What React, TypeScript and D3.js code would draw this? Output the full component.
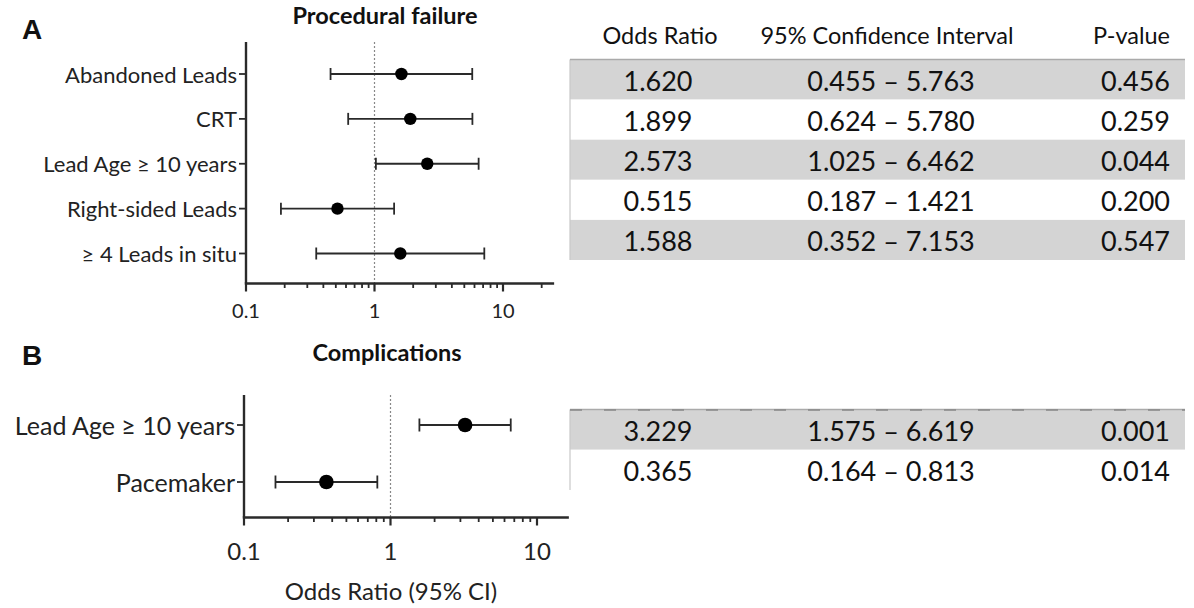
import React from "react";
import * as d3 from "d3";

const catsA = ["Abandoned Leads", "CRT", "Lead Age ≥ 10 years", "Right-sided Leads", "≥ 4 Leads in situ"];
const orA = [1.62, 1.899, 2.573, 0.515, 1.588];
const loA = [0.455, 0.624, 1.025, 0.187, 0.352];
const hiA = [5.763, 5.78, 6.462, 1.421, 7.153];
const pA = ["0.456", "0.259", "0.044", "0.200", "0.547"];

const catsB = ["Lead Age ≥ 10 years", "Pacemaker"];
const orB = [3.229, 0.365];
const loB = [1.575, 0.164];
const hiB = [6.619, 0.813];
const pB = ["0.001", "0.014"];

const tickLabels = ["0.1", "1", "10"];
const tableHeaders = ["Odds Ratio", "95% Confidence Interval", "P-value"];

const FONT = "Lato, 'Open Sans', sans-serif";
const f3 = d3.format(".3f");
const AX = "#2a2a2a";

function minorTicks(domain: [number, number]) {
  const out: number[] = [];
  for (let dec = 0.1; dec < domain[1]; dec *= 10) {
    for (let m = 2; m <= 9; m++) {
      const v = +(dec * m).toPrecision(3);
      if (v < domain[1]) out.push(v);
    }
  }
  return out;
}

type PanelProps = {
  cats: string[];
  or: number[];
  lo: number[];
  hi: number[];
  x: d3.ScaleLogarithmic<number, number>;
  y: d3.ScalePoint<string>;
  yTop: number;
  xAxisY: number;
  labelSize: number;
  tickSize: number;
  tickLabelY: number;
  dotR: number;
  capH: number;
};

function Panel(p: PanelProps) {
  const dom = p.x.domain() as [number, number];
  const x0 = p.x(dom[0]);
  const x1 = p.x(dom[1]);
  const majors = tickLabels.map((t) => +t);
  return (
    <g>
      <line x1={p.x(1)} x2={p.x(1)} y1={p.yTop} y2={p.xAxisY} stroke="#888" strokeWidth={1.2} strokeDasharray="2,2" />
      <line x1={x0} x2={x0} y1={p.yTop} y2={p.xAxisY} stroke={AX} strokeWidth={2.4} />
      {p.cats.map((c) => (
        <g key={c}>
          <line x1={x0 - 7} x2={x0} y1={p.y(c)} y2={p.y(c)} stroke={AX} strokeWidth={1.8} />
          <text x={x0 - 9} y={p.y(c)} textAnchor="end" dominantBaseline="central" fontFamily={FONT} fontSize={p.labelSize} fill="#222">
            {c}
          </text>
        </g>
      ))}
      <line x1={x0 - 1.2} x2={x1} y1={p.xAxisY} y2={p.xAxisY} stroke={AX} strokeWidth={2.4} />
      {minorTicks(dom).map((v) => (
        <line key={v} x1={p.x(v)} x2={p.x(v)} y1={p.xAxisY} y2={p.xAxisY + 4.5} stroke={AX} strokeWidth={1.8} />
      ))}
      {majors.map((v, i) => (
        <g key={v}>
          <line x1={p.x(v)} x2={p.x(v)} y1={p.xAxisY} y2={p.xAxisY + 8} stroke={AX} strokeWidth={2.2} />
          <text x={p.x(v)} y={p.tickLabelY} textAnchor="middle" dominantBaseline="central" fontFamily={FONT} fontSize={p.tickSize} fill="#222">
            {tickLabels[i]}
          </text>
        </g>
      ))}
      {p.cats.map((c, i) => {
        const yy = p.y(c) as number;
        return (
          <g key={"e" + c}>
            <line x1={p.x(p.lo[i])} x2={p.x(p.hi[i])} y1={yy} y2={yy} stroke={AX} strokeWidth={1.8} />
            <line x1={p.x(p.lo[i])} x2={p.x(p.lo[i])} y1={yy - p.capH} y2={yy + p.capH} stroke={AX} strokeWidth={1.8} />
            <line x1={p.x(p.hi[i])} x2={p.x(p.hi[i])} y1={yy - p.capH} y2={yy + p.capH} stroke={AX} strokeWidth={1.8} />
            <circle cx={p.x(p.or[i])} cy={yy} r={p.dotR} fill="#000" />
          </g>
        );
      })}
    </g>
  );
}

type TableProps = {
  or: number[];
  lo: number[];
  hi: number[];
  p: string[];
  rowY: d3.ScaleBand<string>;
  keys: string[];
  dashedTop?: boolean;
};

const TX0 = 570;
const TX1 = 1185;
const COL_OR = 658;
const COL_CI = 891;
const COL_P = 1170;

function Table(t: TableProps) {
  const top = t.rowY.range()[0];
  const bottom = t.rowY.range()[1];
  const bw = t.rowY.bandwidth();
  return (
    <g>
      {t.keys.map((k, i) => (
        <rect key={"r" + k} x={TX0} y={t.rowY(k)} width={TX1 - TX0} height={bw} fill={i % 2 === 0 ? "#d4d4d4" : "#fff"} />
      ))}
      <line x1={TX0} x2={TX0} y1={top} y2={bottom} stroke="#c8c8c8" strokeWidth={1.2} />
      <line x1={TX0} x2={TX1} y1={top} y2={top} stroke="#aaa" strokeWidth={1.5} />
      {t.dashedTop && (
        <line x1={TX0} x2={TX1} y1={top + 0.5} y2={top + 0.5} stroke="#888" strokeWidth={1.5} strokeDasharray="12,22" />
      )}
      {t.keys.map((k, i) => {
        const cy = (t.rowY(k) as number) + bw / 2 + 1;
        return (
          <g key={"t" + k} fontFamily={FONT} fontSize={27} fill="#111">
            <text x={COL_OR} y={cy} textAnchor="middle" dominantBaseline="central">{f3(t.or[i])}</text>
            <text x={COL_CI} y={cy} textAnchor="middle" dominantBaseline="central">{`${f3(t.lo[i])} – ${f3(t.hi[i])}`}</text>
            <text x={COL_P} y={cy} textAnchor="end" dominantBaseline="central">{t.p[i]}</text>
          </g>
        );
      })}
    </g>
  );
}

export default function App() {
  const xA = d3.scaleLog().domain([0.1, 25]).range([246, 246 + 128.5 * Math.log10(250)]);
  const yA = d3.scalePoint<string>().domain(catsA).range([74, 253.5]);
  const xB = d3.scaleLog().domain([0.1, 16.5]).range([244, 244 + 146.5 * Math.log10(165)]);
  const yB = d3.scalePoint<string>().domain(catsB).range([425, 482]);

  const keysA = catsA.map((_, i) => "a" + i);
  const keysB = catsB.map((_, i) => "b" + i);
  const rowA = d3.scaleBand<string>().domain(keysA).range([59.5, 260]);
  const rowB = d3.scaleBand<string>().domain(keysB).range([409.5, 490]);

  return (
    <svg width={1194} height={608} style={{ position: "absolute", left: 0, top: 0, background: "#fff" }}>
      <rect width={1194} height={608} fill="#fff" />
      <text x={22} y={29} fontFamily="'Liberation Sans', Arial, sans-serif" fontWeight="bold" fontSize={28} dominantBaseline="central" fill="#111">A</text>
      <text x={22} y={355} fontFamily="'Liberation Sans', Arial, sans-serif" fontWeight="bold" fontSize={28} dominantBaseline="central" fill="#111">B</text>
      <text x={385} y={15} textAnchor="middle" dominantBaseline="central" fontFamily={FONT} fontWeight="bold" fontSize={23.5} fill="#111">Procedural failure</text>
      <text x={387} y={352} textAnchor="middle" dominantBaseline="central" fontFamily={FONT} fontWeight="bold" fontSize={23.5} fill="#111">Complications</text>

      <Panel cats={catsA} or={orA} lo={loA} hi={hiA} x={xA} y={yA} yTop={42} xAxisY={283.5}
        labelSize={22} tickSize={20} tickLabelY={310} dotR={6.2} capH={6} />
      <Panel cats={catsB} or={orB} lo={loB} hi={hiB} x={xB} y={yB} yTop={395} xAxisY={517.5}
        labelSize={25} tickSize={24} tickLabelY={550} dotR={7.3} capH={6.5} />

      <text x={391} y={590} textAnchor="middle" dominantBaseline="central" fontFamily={FONT} fontSize={24} fill="#222">Odds Ratio (95% CI)</text>

      <g fontFamily={FONT} fontSize={23.5} fill="#111">
        <text x={660} y={35} textAnchor="middle" dominantBaseline="central">{tableHeaders[0]}</text>
        <text x={887} y={35} textAnchor="middle" dominantBaseline="central">{tableHeaders[1]}</text>
        <text x={COL_P} y={35} textAnchor="end" dominantBaseline="central">{tableHeaders[2]}</text>
      </g>
      <Table or={orA} lo={loA} hi={hiA} p={pA} rowY={rowA} keys={keysA} />
      <Table or={orB} lo={loB} hi={hiB} p={pB} rowY={rowB} keys={keysB} dashedTop />
    </svg>
  );
}
